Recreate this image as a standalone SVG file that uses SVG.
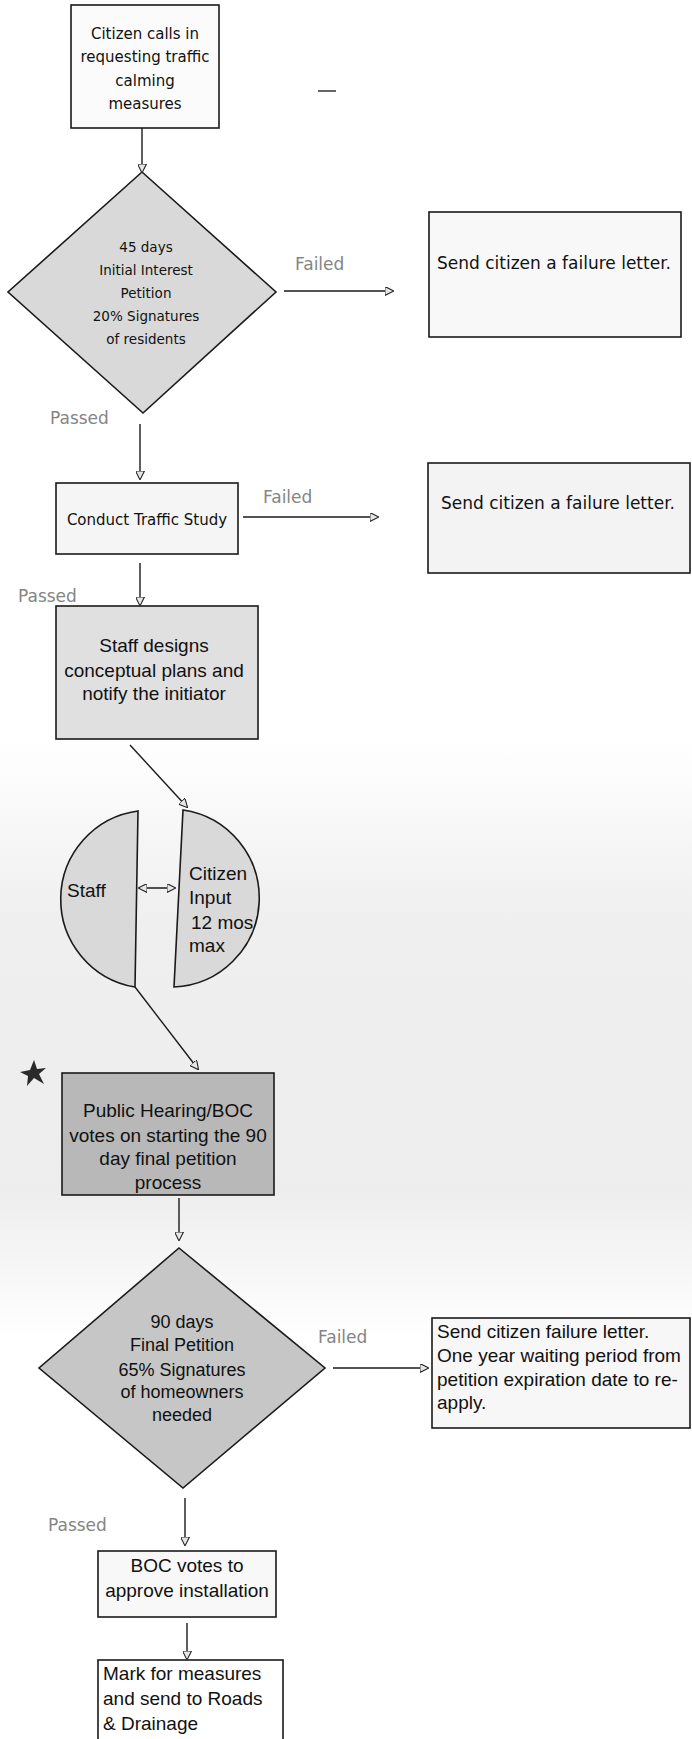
<svg xmlns="http://www.w3.org/2000/svg" width="692" height="1739" viewBox="0 0 692 1739">
<defs>
<marker id="ah" viewBox="0 0 10 10" refX="9" refY="5" markerWidth="9" markerHeight="9" markerUnits="userSpaceOnUse" orient="auto-start-reverse">
<path d="M0,0 L10,5 L0,10 Z" fill="#e6e6e6" stroke="#222" stroke-width="1.2"/>
</marker>
<linearGradient id="bg" x1="0" y1="0" x2="0" y2="1">
<stop offset="0" stop-color="#ffffff"/>
<stop offset="0.3" stop-color="#efefef"/>
<stop offset="0.75" stop-color="#ededed"/>
<stop offset="1" stop-color="#ffffff"/>
</linearGradient>
</defs>
<style>
.box{stroke:#1a1a1a;stroke-width:1.6}
.t1{font-family:"DejaVu Sans",Verdana,sans-serif;fill:#111}
.t2{font-family:"Liberation Sans",Arial,Helvetica,sans-serif;fill:#111}
.lbl{font-family:"DejaVu Sans",Verdana,sans-serif;font-size:17px;fill:#858585}
.conn line{stroke:#1a1a1a;stroke-width:1.4;marker-end:url(#ah)}
</style>
<rect x="0" y="0" width="692" height="1739" fill="#ffffff"/>
<rect x="0" y="740" width="692" height="600" fill="url(#bg)"/>

<g id="box-citizen-calls">
<rect class="box" x="71" y="5" width="148" height="123" fill="#fbfbfb"/>
<text class="t1" font-size="15" text-anchor="middle" x="145"><tspan x="145" y="39">Citizen calls in</tspan><tspan x="145" y="62">requesting traffic</tspan><tspan x="145" y="86">calming</tspan><tspan x="145" y="109">measures</tspan></text>
</g>

<g id="decision-initial-petition">
<polygon class="box" points="142,172 276,292 143,413 8,292" fill="#d9d9d9"/>
<text class="t1" font-size="13.5" text-anchor="middle"><tspan x="146" y="252">45 days</tspan><tspan x="146" y="275">Initial Interest</tspan><tspan x="146" y="298">Petition</tspan><tspan x="146" y="321">20% Signatures</tspan><tspan x="146" y="344">of residents</tspan></text>
</g>

<g id="box-failure-1">
<rect class="box" x="429" y="212" width="252" height="125" fill="#f8f8f8"/>
<text class="t1" font-size="17" x="437" y="269">Send citizen a failure letter.</text>
</g>

<g id="box-traffic-study">
<rect class="box" x="56" y="483" width="182" height="71" fill="#f5f5f5"/>
<text class="t1" font-size="15" text-anchor="middle" x="147" y="525">Conduct Traffic Study</text>
</g>

<g id="box-failure-2">
<rect class="box" x="428" y="463" width="262" height="110" fill="#f3f3f3"/>
<text class="t1" font-size="17" x="441" y="509">Send citizen a failure letter.</text>
</g>

<g id="box-staff-designs">
<rect class="box" x="56" y="606" width="202" height="133" fill="#e0e0e0"/>
<text class="t2" font-size="19" text-anchor="middle"><tspan x="154" y="652">Staff designs</tspan><tspan x="154" y="677">conceptual plans and</tspan><tspan x="154" y="700">notify the initiator</tspan></text>
</g>

<g id="half-staff">
<path class="box" d="M138,811 L135,987 A89,89 0 0 1 138,811 Z" fill="#d9d9d9"/>
<text class="t2" font-size="19" x="67" y="897">Staff</text>
</g>

<g id="half-citizen-input">
<path class="box" d="M183,810 A89,89 0 0 1 174,987 Z" fill="#d9d9d9"/>
<text class="t2" font-size="19"><tspan x="189" y="880">Citizen</tspan><tspan x="189" y="904">Input</tspan><tspan x="191" y="929">12 mos</tspan><tspan x="189" y="952">max</tspan></text>
</g>

<g id="star-mark">
<path d="M34,1060 L37,1069 L46,1068 L39,1074 L44,1084 L34,1078 L27,1086 L28,1076 L20,1072 L30,1070 Z" fill="#2a2a2a"/>
</g>

<g id="box-public-hearing">
<rect class="box" x="62" y="1073" width="212" height="122" fill="#b8b8b8"/>
<text class="t2" font-size="19" text-anchor="middle"><tspan x="168" y="1117">Public Hearing/BOC</tspan><tspan x="168" y="1142">votes on starting the 90</tspan><tspan x="168" y="1165">day final petition</tspan><tspan x="168" y="1189">process</tspan></text>
</g>

<g id="decision-final-petition">
<polygon class="box" points="179,1248 325,1368 183,1488 39,1368" fill="#c6c6c6"/>
<text class="t2" font-size="18" text-anchor="middle"><tspan x="182" y="1328">90 days</tspan><tspan x="182" y="1351">Final Petition</tspan><tspan x="182" y="1376">65% Signatures</tspan><tspan x="182" y="1398">of homeowners</tspan><tspan x="182" y="1421">needed</tspan></text>
</g>

<g id="box-failure-3">
<rect class="box" x="432" y="1318" width="258" height="110" fill="#f7f7f7"/>
<text class="t2" font-size="19"><tspan x="437" y="1338">Send citizen failure letter.</tspan><tspan x="437" y="1362">One year waiting period from</tspan><tspan x="437" y="1386">petition expiration date to re-</tspan><tspan x="437" y="1409">apply.</tspan></text>
</g>

<g id="box-boc-votes">
<rect class="box" x="98" y="1551" width="178" height="66" fill="#f8f8f8"/>
<text class="t2" font-size="19" text-anchor="middle"><tspan x="187" y="1572">BOC votes to</tspan><tspan x="187" y="1597">approve installation</tspan></text>
</g>

<g id="box-mark-measures">
<rect class="box" x="98" y="1660" width="185" height="90" fill="#ffffff"/>
<text class="t2" font-size="19"><tspan x="103" y="1680">Mark for measures</tspan><tspan x="103" y="1705">and send to Roads</tspan><tspan x="103" y="1730">&amp; Drainage</tspan></text>
</g>

<g id="connectors" class="conn">
<line x1="142" y1="128" x2="142" y2="172"/>
<line x1="284" y1="291" x2="393" y2="291"/>
<line x1="140" y1="424" x2="140" y2="479"/>
<line x1="243" y1="517" x2="378" y2="517"/>
<line x1="140" y1="563" x2="140" y2="605"/>
<line x1="130" y1="745" x2="187" y2="807"/>
<line x1="139" y1="888" x2="175" y2="888" marker-start="url(#ah)"/>
<line x1="135" y1="987" x2="198" y2="1069"/>
<line x1="179" y1="1198" x2="179" y2="1240"/>
<line x1="333" y1="1368" x2="428" y2="1368"/>
<line x1="185" y1="1498" x2="185" y2="1545"/>
<line x1="187" y1="1623" x2="187" y2="1659"/>
</g>

<g id="labels">
<text class="lbl" x="295" y="270">Failed</text>
<text class="lbl" x="263" y="503">Failed</text>
<text class="lbl" x="18" y="602">Passed</text>
<text class="lbl" x="50" y="424">Passed</text>
<text class="lbl" x="318" y="1343">Failed</text>
<text class="lbl" x="48" y="1531">Passed</text>
</g>
<line x1="318" y1="91" x2="336" y2="91" stroke="#333" stroke-width="1.5"/>
</svg>
